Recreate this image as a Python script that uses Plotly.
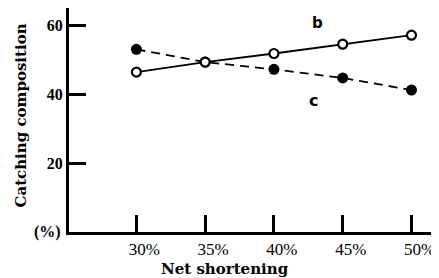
import plotly.graph_objects as go

net_shortening = [30, 35, 40, 45, 50]
series_b = [46.4, 49.3, 51.8, 54.5, 57.1]
series_c = [53.0, 49.3, 47.2, 44.7, 41.2]
x_tick_labels = ["30%", "35%", "40%", "45%", "50%"]
y_ticks = [20, 40, 60]

FONT = "Liberation Serif"
TITLE_FONT = "DejaVu Serif"

fig = go.Figure()
fig.add_trace(go.Scatter(
    x=net_shortening, y=series_c, mode="lines+markers",
    line=dict(color="black", width=1.8, dash="9px,6px"),
    marker=dict(symbol="circle", size=11, color="black"),
    showlegend=False, cliponaxis=False))
fig.add_trace(go.Scatter(
    x=net_shortening, y=series_b, mode="lines+markers",
    line=dict(color="black", width=1.8),
    marker=dict(symbol="circle", size=9, color="white",
                line=dict(color="black", width=2.2)),
    showlegend=False, cliponaxis=False))

# page body has an 8px margin, so the figure is sized to fit the remaining view
fig.update_layout(
    width=431, height=270,
    margin=dict(l=61, r=0, t=0, b=46, autoexpand=False),
    paper_bgcolor="white", plot_bgcolor="white",
    font=dict(family=FONT, color="black"),
    xaxis=dict(range=[25.1, 52], tickvals=net_shortening, ticktext=x_tick_labels,
               ticks="inside", ticklen=17, tickwidth=3, tickcolor="black",
               showline=True, linewidth=3, linecolor="black",
               showgrid=False, zeroline=False, automargin=False,
               tickfont=dict(family=FONT, size=17, color="black"),
               ticklabelshift=8),
    yaxis=dict(range=[0, 65], tickvals=y_ticks,
               ticks="inside", ticklen=17, tickwidth=3, tickcolor="black",
               showline=True, linewidth=3, linecolor="black",
               showgrid=False, zeroline=False, automargin=False,
               tickfont=dict(family=FONT, size=16, color="black", weight="bold")),
    annotations=[
        dict(text="Catching composition", textangle=-90, xref="paper", yref="paper",
             x=0, y=0.52, xshift=-48, xanchor="center", yanchor="middle",
             showarrow=False, font=dict(family=TITLE_FONT, size=15, weight="bold")),
        dict(text="(%)", xref="paper", yref="y", x=0, y=0, xanchor="right",
             yanchor="middle", xshift=-6, showarrow=False,
             font=dict(family=FONT, size=16, weight="bold")),
        dict(text="Net shortening", xref="paper", yref="paper", x=(225-69)/370, y=0,
             yshift=-37, xanchor="center", yanchor="middle", showarrow=False,
             font=dict(family=TITLE_FONT, size=15, weight="bold")),
        dict(text="b", xref="x", yref="y", x=43.2, y=60.6, showarrow=False,
             font=dict(family="DejaVu Sans", size=15, weight="bold")),
        dict(text="c", xref="x", yref="y", x=42.9, y=38.3, showarrow=False,
             font=dict(family="DejaVu Sans", size=16, weight="bold")),
    ],
)

fig.write_html("out.html")
